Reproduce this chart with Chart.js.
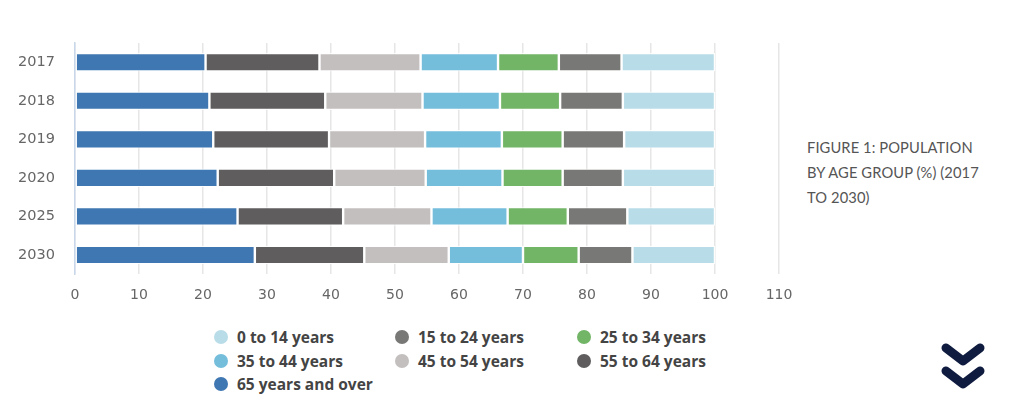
<!DOCTYPE html>
<html>
<head>
<meta charset="utf-8">
<script src="https://cdn.jsdelivr.net/npm/chart.js@4"></script>
<style>
  body{margin:0;background:#fff;width:1024px;height:400px;overflow:hidden;position:relative;font-family:"DejaVu Sans",sans-serif}
  #wrap{position:absolute;left:0;top:0;width:800px;height:310px}
  #legend{position:absolute;left:214px;top:326px;width:560px}
  .item{position:absolute;display:flex;align-items:center;font-family:"Open Sans",sans-serif;font-weight:700;font-size:15.5px;color:#444;white-space:nowrap}
  .dot{width:14px;height:14px;border-radius:50%;margin-right:9px}
  #title{position:absolute;left:807px;top:135px;font-family:Lato,sans-serif;font-size:14.7px;line-height:25px;color:#555;letter-spacing:0.1px}
  #chev{position:absolute;left:930px;top:335px}
</style>
</head>
<body>
<div id="wrap"><canvas id="grafico"></canvas></div>
<div id="legend"></div>
<div id="title">FIGURE 1: POPULATION<br>BY AGE GROUP (%) (2017<br>TO 2030)</div>
<svg id="chev" width="70" height="65" viewBox="930 335 70 65">
  <polyline points="946,348 963,361 980,348" fill="none" stroke="#0f1c3f" stroke-width="9" stroke-linecap="round" stroke-linejoin="round"/>
  <polyline points="946,371 963,384 980,371" fill="none" stroke="#0f1c3f" stroke-width="9" stroke-linecap="round" stroke-linejoin="round"/>
</svg>
<script>
'use strict'

const years = ['2017','2018','2019','2020','2025','2030']
const xTicks = [0,10,20,30,40,50,60,70,80,90,100,110]

// porcentaje por grupo de edad
const age0to14  = [14.6,14.4,14.2,14.4,13.7,12.9]
const age15to24 = [9.8,9.8,9.6,9.4,9.3,8.4]
const age25to34 = [9.5,9.4,9.5,9.4,9.4,8.7]
const age35to44 = [12.1,12.1,12.0,12.0,11.9,11.6]
const age45to54 = [15.8,15.2,15.0,14.3,13.8,13.2]
const age55to64 = [17.8,18.1,18.1,18.2,16.5,17.1]
const age65plus = [20.4,21.0,21.6,22.3,25.4,28.1]

const groups = [
  {label:'0 to 14 years', data:age0to14, color:'#b9dde8'},
  {label:'15 to 24 years', data:age15to24, color:'#787876'},
  {label:'25 to 34 years', data:age25to34, color:'#72b567'},
  {label:'35 to 44 years', data:age35to44, color:'#74bedc'},
  {label:'45 to 54 years', data:age45to54, color:'#c3bfbe'},
  {label:'55 to 64 years', data:age55to64, color:'#5f5d5e'},
  {label:'65 years and over', data:age65plus, color:'#3f77b2'}
]

// las barras se apilan desde 65+ hacia 0-14
const datasets = groups.slice().reverse().map(g => ({
  label: g.label,
  data: g.data,
  backgroundColor: g.color,
  borderColor: 'rgba(255,255,255,0.9)',
  borderWidth: 1.2,
  borderSkipped: false,
  categoryPercentage: 1,
  barPercentage: 0.48
}))

const config = {
  type: 'bar',
  data: {labels: years, datasets: datasets},
  options: {
    indexAxis: 'y',
    responsive: true,
    maintainAspectRatio: false,
    animation: false,
    layout: {padding: {top: 43, right: 21, bottom: 3, left: 0}},
    plugins: {legend: {display: false}, tooltip: {enabled: false}},
    scales: {
      x: {
        stacked: true,
        min: 0,
        max: 110,
        afterBuildTicks: s => { s.ticks = xTicks.map(v => ({value: v})) },
        grid: {color: '#e6e6e6', lineWidth: 1.5, drawTicks: true, tickLength: 10, tickColor: 'transparent'},
        border: {display: false},
        ticks: {padding: 3, color: '#666', font: {family: 'DejaVu Sans', size: 14}}
      },
      y: {
        stacked: true,
        afterFit: s => { s.width = 75 },
        grid: {display: true, drawOnChartArea: false, drawTicks: true, tickLength: 17, tickColor: 'transparent'},
        border: {display: true, color: '#c9d7ea', width: 1.5},
        ticks: {padding: 3, color: '#666', font: {family: 'DejaVu Sans', size: 14.5}}
      }
    }
  }
}

new Chart(document.querySelector('#grafico'), config)

// leyenda en tres columnas
const legend = document.querySelector('#legend')
const colX = [0, 181, 363]
groups.forEach((g, i) => {
  const it = document.createElement('div')
  it.className = 'item'
  it.style.left = colX[i % 3] + 'px'
  it.style.top = (Math.floor(i / 3) * 23.5) + 'px'
  it.innerHTML = '<span class="dot" style="background:' + g.color + '"></span>' + g.label
  legend.appendChild(it)
})
</script>
</body>
</html>
